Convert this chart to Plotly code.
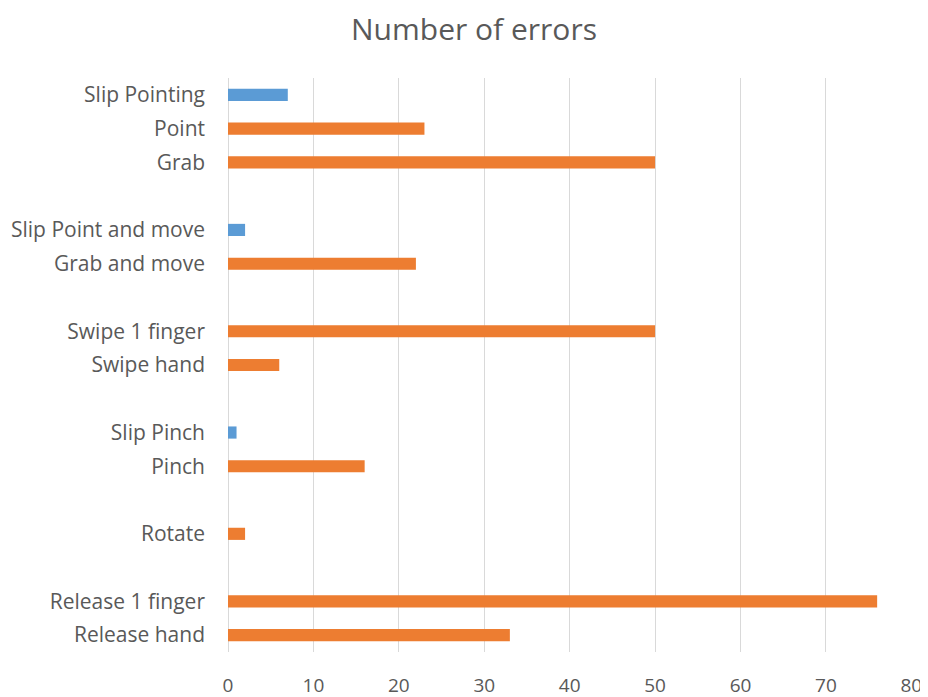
import plotly.graph_objects as go

categories = ["Slip Pointing", "Point", "Grab", " ",
              "Slip Point and move", "Grab and move", "  ",
              "Swipe 1 finger", "Swipe hand", "   ",
              "Slip Pinch", "Pinch", "    ",
              "Rotate", "     ",
              "Release 1 finger", "Release hand"]

slip_labels = ["Slip Pointing", "Slip Point and move", "Slip Pinch"]
slip_values = [7, 2, 1]

gesture_labels = ["Point", "Grab", "Grab and move", "Swipe 1 finger", "Swipe hand",
                  "Pinch", "Rotate", "Release 1 finger", "Release hand"]
gesture_values = [23, 50, 22, 50, 6, 16, 2, 76, 33]

x_ticks = [0, 10, 20, 30, 40, 50, 60, 70, 80]

FONT = "Open Sans"
GREY = "#595959"
GRID = "#D9D9D9"

fig = go.Figure()
fig.add_trace(go.Bar(y=slip_labels, x=slip_values, orientation="h",
                     marker=dict(color="#5B9BD5", line=dict(width=0)), width=0.36,
                     name="Slip"))
fig.add_trace(go.Bar(y=gesture_labels, x=gesture_values, orientation="h",
                     marker=dict(color="#ED7D31", line=dict(width=0)), width=0.36,
                     name="Gesture"))

fig.update_layout(
    width=920, height=689,
    paper_bgcolor="white", plot_bgcolor="white",
    showlegend=False,
    barmode="overlay",
    margin=dict(l=220, r=16, t=70, b=45, autoexpand=False),
    title=dict(text="Number of errors", x=0.5065, xanchor="center", y=0.969, yanchor="middle",
               font=dict(family=FONT, size=30, color=GREY)),
    xaxis=dict(range=[0, 80.08], tickvals=x_ticks, showgrid=True, gridcolor=GRID,
               gridwidth=1, zeroline=True, zerolinecolor=GRID, zerolinewidth=1,
               showline=False, ticks="", automargin=False,
               ticklabelstandoff=20,
               tickfont=dict(family=FONT, size=19, color=GREY)),
    yaxis=dict(type="category", categoryorder="array", categoryarray=categories,
               autorange="reversed", showgrid=False, zeroline=False, showline=False,
               ticks="", ticklabelstandoff=22, automargin=False,
               tickfont=dict(family=FONT, size=21, color=GREY)),
)

fig.write_html("out.html")
